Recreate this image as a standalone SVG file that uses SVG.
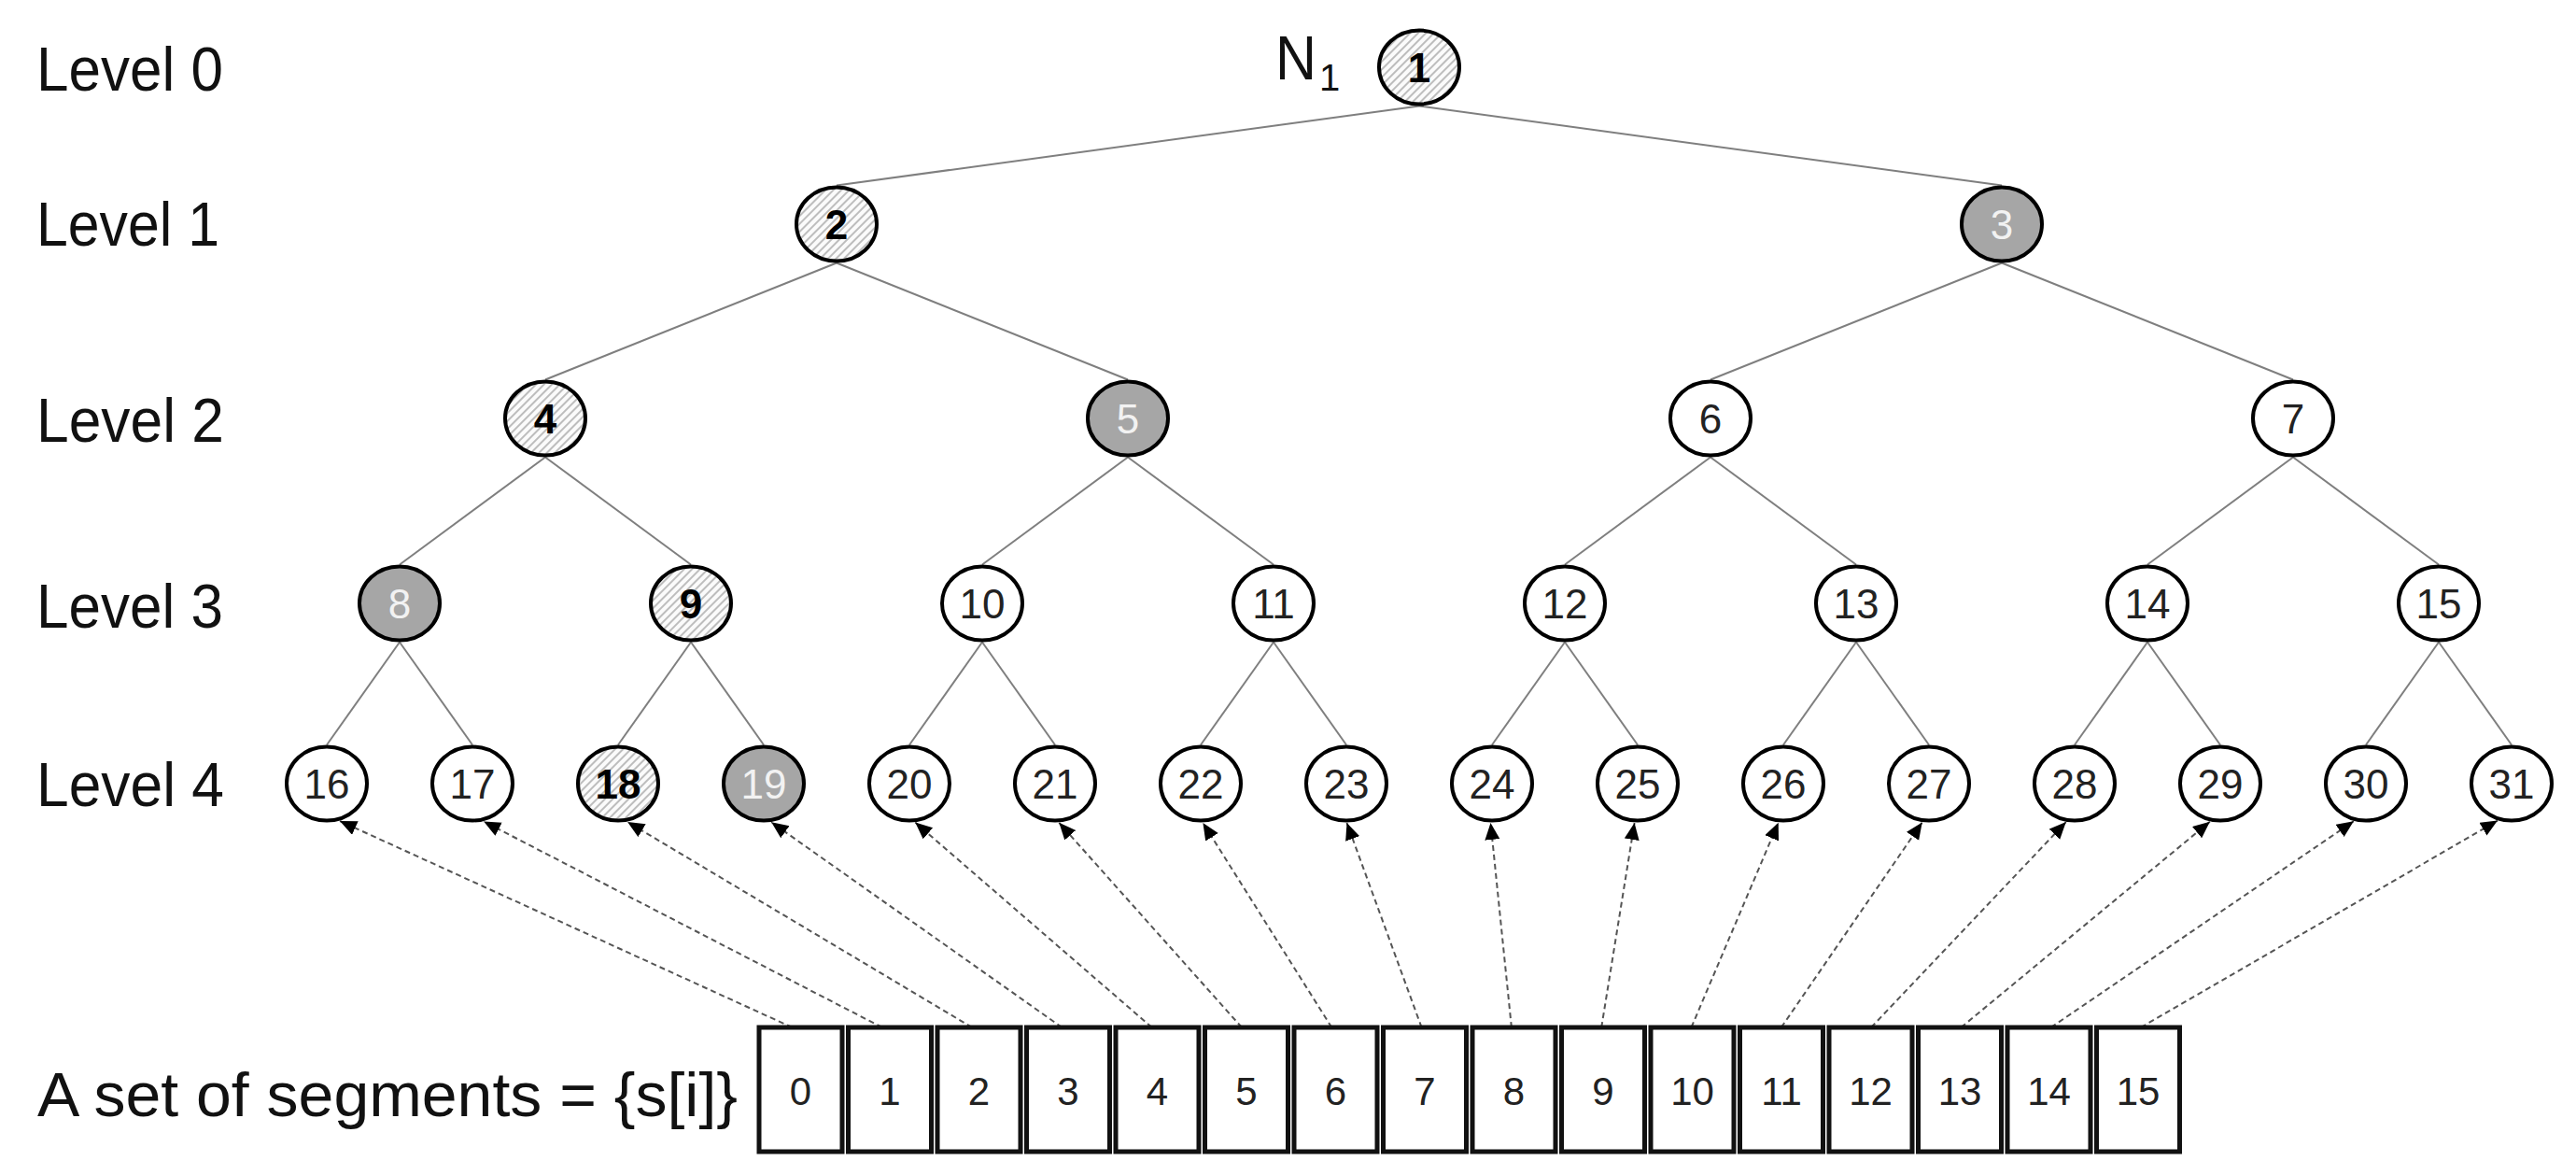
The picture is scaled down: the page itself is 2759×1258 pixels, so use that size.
<svg xmlns="http://www.w3.org/2000/svg" width="2759" height="1258" viewBox="0 0 2759 1258">
<style>
text { font-family: "Liberation Sans", Arial, sans-serif; }
.lvl { font-size: 66px; fill: #111; }
.node ellipse { stroke: #000; stroke-width: 4; }
.white ellipse { fill: #fff; }
.gray ellipse { fill: #a6a6a6; }
.hatch ellipse { fill: url(#hatchPat); }
.node text { font-size: 44px; text-anchor: middle; fill: #222; }
.gray text { fill: #f2f2f2; }
.hatch text { font-weight: bold; fill: #000; }
.edge { stroke: #7f7f7f; stroke-width: 2; fill: none; }
.arrow { stroke: #555; stroke-width: 2; stroke-dasharray: 6 4; fill: none; marker-end: url(#ah); }
.seg rect { fill: #fff; stroke: #111; stroke-width: 5; }
.seg text { font-size: 42px; text-anchor: middle; fill: #222; }
</style>
<defs>
<pattern id="hatchPat" patternUnits="userSpaceOnUse" width="6" height="6" patternTransform="rotate(45)">
<rect width="6" height="6" fill="#fbfbfb"/>
<line x1="1" y1="0" x2="1" y2="6" stroke="#a8a8a8" stroke-width="1.5"/>
</pattern>
<marker id="ah" markerUnits="userSpaceOnUse" markerWidth="20" markerHeight="18" refX="18" refY="8" orient="auto">
<path d="M0,0 L18,8 L0,16 Z" fill="#000"/>
</marker>
</defs>
<rect width="2759" height="1258" fill="#fff"/>

<g id="labels">
<text class="lvl" x="39" y="97" textLength="200" lengthAdjust="spacingAndGlyphs">Level 0</text>
<text class="lvl" x="39" y="263" textLength="196" lengthAdjust="spacingAndGlyphs">Level 1</text>
<text class="lvl" x="39" y="473" textLength="201" lengthAdjust="spacingAndGlyphs">Level 2</text>
<text class="lvl" x="39" y="672" textLength="200" lengthAdjust="spacingAndGlyphs">Level 3</text>
<text class="lvl" x="39" y="863" textLength="201" lengthAdjust="spacingAndGlyphs">Level 4</text>
<text class="lvl" x="1366" y="85" textLength="44" lengthAdjust="spacingAndGlyphs">N</text>
<text x="1413" y="97" font-size="40" fill="#111">1</text>
<text class="lvl" x="40" y="1195" textLength="750" lengthAdjust="spacingAndGlyphs">A set of segments = {s[i]}</text>
</g>

<g id="connectors">
<line class="edge" x1="1520" y1="113.5" x2="896" y2="198.5"/>
<line class="edge" x1="1520" y1="113.5" x2="2144" y2="198.5"/>
<line class="edge" x1="896" y1="281.5" x2="584" y2="406.5"/>
<line class="edge" x1="896" y1="281.5" x2="1208" y2="406.5"/>
<line class="edge" x1="2144" y1="281.5" x2="1832" y2="406.5"/>
<line class="edge" x1="2144" y1="281.5" x2="2456" y2="406.5"/>
<line class="edge" x1="584" y1="489.5" x2="428" y2="604.5"/>
<line class="edge" x1="584" y1="489.5" x2="740" y2="604.5"/>
<line class="edge" x1="1208" y1="489.5" x2="1052" y2="604.5"/>
<line class="edge" x1="1208" y1="489.5" x2="1364" y2="604.5"/>
<line class="edge" x1="1832" y1="489.5" x2="1676" y2="604.5"/>
<line class="edge" x1="1832" y1="489.5" x2="1988" y2="604.5"/>
<line class="edge" x1="2456" y1="489.5" x2="2300" y2="604.5"/>
<line class="edge" x1="2456" y1="489.5" x2="2612" y2="604.5"/>
<line class="edge" x1="428" y1="687.5" x2="350" y2="797.5"/>
<line class="edge" x1="428" y1="687.5" x2="506" y2="797.5"/>
<line class="edge" x1="740" y1="687.5" x2="662" y2="797.5"/>
<line class="edge" x1="740" y1="687.5" x2="818" y2="797.5"/>
<line class="edge" x1="1052" y1="687.5" x2="974" y2="797.5"/>
<line class="edge" x1="1052" y1="687.5" x2="1130" y2="797.5"/>
<line class="edge" x1="1364" y1="687.5" x2="1286" y2="797.5"/>
<line class="edge" x1="1364" y1="687.5" x2="1442" y2="797.5"/>
<line class="edge" x1="1676" y1="687.5" x2="1598" y2="797.5"/>
<line class="edge" x1="1676" y1="687.5" x2="1754" y2="797.5"/>
<line class="edge" x1="1988" y1="687.5" x2="1910" y2="797.5"/>
<line class="edge" x1="1988" y1="687.5" x2="2066" y2="797.5"/>
<line class="edge" x1="2300" y1="687.5" x2="2222" y2="797.5"/>
<line class="edge" x1="2300" y1="687.5" x2="2378" y2="797.5"/>
<line class="edge" x1="2612" y1="687.5" x2="2534" y2="797.5"/>
<line class="edge" x1="2612" y1="687.5" x2="2690" y2="797.5"/>

<line class="arrow" x1="848.5" y1="1100" x2="364" y2="879"/>
<line class="arrow" x1="944.8" y1="1100" x2="518.1" y2="879.5"/>
<line class="arrow" x1="1041.1" y1="1100" x2="672.1" y2="880"/>
<line class="arrow" x1="1137.4" y1="1100" x2="826.2" y2="880.3"/>
<line class="arrow" x1="1233.7" y1="1100" x2="980.3" y2="880.6"/>
<line class="arrow" x1="1330" y1="1100" x2="1134.3" y2="880.8"/>
<line class="arrow" x1="1426.3" y1="1100" x2="1288.4" y2="881"/>
<line class="arrow" x1="1522.6" y1="1100" x2="1442.5" y2="881"/>
<line class="arrow" x1="1618.9" y1="1100" x2="1596.5" y2="881"/>
<line class="arrow" x1="1715.2" y1="1100" x2="1750.6" y2="881"/>
<line class="arrow" x1="1811.5" y1="1100" x2="1904.7" y2="880.7"/>
<line class="arrow" x1="1907.8" y1="1100" x2="2058.7" y2="880.5"/>
<line class="arrow" x1="2004.1" y1="1100" x2="2212.8" y2="880.1"/>
<line class="arrow" x1="2100.4" y1="1100" x2="2366.9" y2="879.7"/>
<line class="arrow" x1="2196.7" y1="1100" x2="2520.9" y2="879.2"/>
<line class="arrow" x1="2293" y1="1100" x2="2675" y2="878.6"/>
</g>

<g id="node1" class="node hatch"><ellipse cx="1520" cy="72" rx="43" ry="39.5"/><text x="1520" y="88">1</text></g>
<g id="node2" class="node hatch"><ellipse cx="896" cy="240" rx="43" ry="39.5"/><text x="896" y="256">2</text></g>
<g id="node3" class="node gray"><ellipse cx="2144" cy="240" rx="43" ry="39.5"/><text x="2144" y="256">3</text></g>
<g id="node4" class="node hatch"><ellipse cx="584" cy="448" rx="43" ry="39.5"/><text x="584" y="464">4</text></g>
<g id="node5" class="node gray"><ellipse cx="1208" cy="448" rx="43" ry="39.5"/><text x="1208" y="464">5</text></g>
<g id="node6" class="node white"><ellipse cx="1832" cy="448" rx="43" ry="39.5"/><text x="1832" y="464">6</text></g>
<g id="node7" class="node white"><ellipse cx="2456" cy="448" rx="43" ry="39.5"/><text x="2456" y="464">7</text></g>
<g id="node8" class="node gray"><ellipse cx="428" cy="646" rx="43" ry="39.5"/><text x="428" y="662">8</text></g>
<g id="node9" class="node hatch"><ellipse cx="740" cy="646" rx="43" ry="39.5"/><text x="740" y="662">9</text></g>
<g id="node10" class="node white"><ellipse cx="1052" cy="646" rx="43" ry="39.5"/><text x="1052" y="662">10</text></g>
<g id="node11" class="node white"><ellipse cx="1364" cy="646" rx="43" ry="39.5"/><text x="1364" y="662">11</text></g>
<g id="node12" class="node white"><ellipse cx="1676" cy="646" rx="43" ry="39.5"/><text x="1676" y="662">12</text></g>
<g id="node13" class="node white"><ellipse cx="1988" cy="646" rx="43" ry="39.5"/><text x="1988" y="662">13</text></g>
<g id="node14" class="node white"><ellipse cx="2300" cy="646" rx="43" ry="39.5"/><text x="2300" y="662">14</text></g>
<g id="node15" class="node white"><ellipse cx="2612" cy="646" rx="43" ry="39.5"/><text x="2612" y="662">15</text></g>
<g id="node16" class="node white"><ellipse cx="350" cy="839" rx="43" ry="39.5"/><text x="350" y="855">16</text></g>
<g id="node17" class="node white"><ellipse cx="506" cy="839" rx="43" ry="39.5"/><text x="506" y="855">17</text></g>
<g id="node18" class="node hatch"><ellipse cx="662" cy="839" rx="43" ry="39.5"/><text x="662" y="855">18</text></g>
<g id="node19" class="node gray"><ellipse cx="818" cy="839" rx="43" ry="39.5"/><text x="818" y="855">19</text></g>
<g id="node20" class="node white"><ellipse cx="974" cy="839" rx="43" ry="39.5"/><text x="974" y="855">20</text></g>
<g id="node21" class="node white"><ellipse cx="1130" cy="839" rx="43" ry="39.5"/><text x="1130" y="855">21</text></g>
<g id="node22" class="node white"><ellipse cx="1286" cy="839" rx="43" ry="39.5"/><text x="1286" y="855">22</text></g>
<g id="node23" class="node white"><ellipse cx="1442" cy="839" rx="43" ry="39.5"/><text x="1442" y="855">23</text></g>
<g id="node24" class="node white"><ellipse cx="1598" cy="839" rx="43" ry="39.5"/><text x="1598" y="855">24</text></g>
<g id="node25" class="node white"><ellipse cx="1754" cy="839" rx="43" ry="39.5"/><text x="1754" y="855">25</text></g>
<g id="node26" class="node white"><ellipse cx="1910" cy="839" rx="43" ry="39.5"/><text x="1910" y="855">26</text></g>
<g id="node27" class="node white"><ellipse cx="2066" cy="839" rx="43" ry="39.5"/><text x="2066" y="855">27</text></g>
<g id="node28" class="node white"><ellipse cx="2222" cy="839" rx="43" ry="39.5"/><text x="2222" y="855">28</text></g>
<g id="node29" class="node white"><ellipse cx="2378" cy="839" rx="43" ry="39.5"/><text x="2378" y="855">29</text></g>
<g id="node30" class="node white"><ellipse cx="2534" cy="839" rx="43" ry="39.5"/><text x="2534" y="855">30</text></g>
<g id="node31" class="node white"><ellipse cx="2690" cy="839" rx="43" ry="39.5"/><text x="2690" y="855">31</text></g>

<g id="segments">
<g id="seg0" class="seg"><rect x="813" y="1100" width="89" height="133"/><text x="857.5" y="1183">0</text></g>
<g id="seg1" class="seg"><rect x="908.5" y="1100" width="89" height="133"/><text x="953" y="1183">1</text></g>
<g id="seg2" class="seg"><rect x="1004" y="1100" width="89" height="133"/><text x="1048.5" y="1183">2</text></g>
<g id="seg3" class="seg"><rect x="1099.5" y="1100" width="89" height="133"/><text x="1144" y="1183">3</text></g>
<g id="seg4" class="seg"><rect x="1195" y="1100" width="89" height="133"/><text x="1239.5" y="1183">4</text></g>
<g id="seg5" class="seg"><rect x="1290.5" y="1100" width="89" height="133"/><text x="1335" y="1183">5</text></g>
<g id="seg6" class="seg"><rect x="1386" y="1100" width="89" height="133"/><text x="1430.5" y="1183">6</text></g>
<g id="seg7" class="seg"><rect x="1481.5" y="1100" width="89" height="133"/><text x="1526" y="1183">7</text></g>
<g id="seg8" class="seg"><rect x="1577" y="1100" width="89" height="133"/><text x="1621.5" y="1183">8</text></g>
<g id="seg9" class="seg"><rect x="1672.5" y="1100" width="89" height="133"/><text x="1717" y="1183">9</text></g>
<g id="seg10" class="seg"><rect x="1768" y="1100" width="89" height="133"/><text x="1812.5" y="1183">10</text></g>
<g id="seg11" class="seg"><rect x="1863.5" y="1100" width="89" height="133"/><text x="1908" y="1183">11</text></g>
<g id="seg12" class="seg"><rect x="1959" y="1100" width="89" height="133"/><text x="2003.5" y="1183">12</text></g>
<g id="seg13" class="seg"><rect x="2054.5" y="1100" width="89" height="133"/><text x="2099" y="1183">13</text></g>
<g id="seg14" class="seg"><rect x="2150" y="1100" width="89" height="133"/><text x="2194.5" y="1183">14</text></g>
<g id="seg15" class="seg"><rect x="2245.5" y="1100" width="89" height="133"/><text x="2290" y="1183">15</text></g>
</g>
</svg>
